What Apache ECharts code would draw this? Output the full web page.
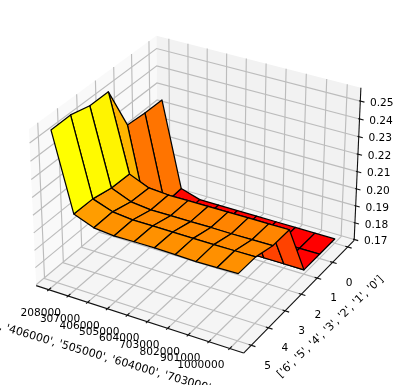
<!DOCTYPE html>
<html>
<head>
<meta charset="utf-8">
<style>html,body{margin:0;padding:0;background:#fff}#c{width:401px;height:385px}</style>
<script src="https://cdn.jsdelivr.net/npm/echarts@6/dist/echarts.min.js"></script>
</head>
<body>
<div id="c"></div>
<script>
// ---- data ----
const xTickLabels = ['208000','307000','406000','505000','604000','703000','802000','901000','1000000',''];
const yTickLabels = ['5','4','3','2','1','0',''];
const zTicks = [0.17,0.18,0.19,0.20,0.21,0.22,0.23,0.24,0.25];
const xLabelText = "['208000', '307000', '406000', '505000', '604000', '703000', '802000', '901000', '1000000']";
const yLabelText = "['6', '5', '4', '3', '2', '1', '0']";
const zRow0 = [0.2556,0.2125,0.2081,0.2070,0.2072,0.2073,0.2070,0.2067,0.2069,0.2072];
const zRow1 = [0.2558,0.2123,0.2083,0.2071,0.2071,0.2071,0.2070,0.2070,0.2071,0.2072];
const zRow2 = [0.2530,0.2099,0.2053,0.2040,0.2041,0.2041,0.2042,0.2041,0.2042,0.2043];
const zRow3 = [0.2530,0.2095,0.2047,0.2039,0.2040,0.2040,0.2041,0.2042,0.2042,0.2043];
const zRow4 = [0.2265,0.1750,0.1720,0.1720,0.1720,0.1720,0.1720,0.1720,0.1720,0.1720];
const zRow5 = [0.2255,0.1750,0.1720,0.1720,0.1720,0.1720,0.1720,0.1720,0.1720,0.1720];
const zRow6 = [0.2253,0.1755,0.1720,0.1720,0.1720,0.1720,0.1720,0.1720,0.1720,0.1720];
const zRows = [zRow0,zRow1,zRow2,zRow3,zRow4,zRow5,zRow6];

// ---- 3D axis box ----
const xLim = [-0.656, 9.656], yLim = [-0.4375, 6.4375], zLim = [0.1695, 0.2574];
const box = [1.1428, 1.1428, 0.857];
const DIST = 10, SCALE = 2080, CX = 198, CY = 187;
const U = [0.866, 0.5, 0], V = [-0.25, 0.433, 0.866], W = [0.433, -0.75, 0.5];
function view(x, y, z) {
  const d = [
    ((x - xLim[0]) / (xLim[1] - xLim[0]) - 0.5) * box[0],
    ((y - yLim[0]) / (yLim[1] - yLim[0]) - 0.5) * box[1],
    ((z - zLim[0]) / (zLim[1] - zLim[0]) - 0.5) * box[2]
  ];
  const dot = a => a[0]*d[0] + a[1]*d[1] + a[2]*d[2];
  return { u: dot(U), v: dot(V), w: dot(W) };
}
function project(x, y, z) {
  const p = view(x, y, z), s = SCALE / (DIST - p.w);
  return [CX + s * p.u, CY - s * p.v];
}

// ---- surface cells: colour from cell mean (autumn map), painter's order ----
const cells = [];
for (let j = 0; j < zRows.length - 1; j++) {
  for (let i = 0; i < zRow0.length - 1; i++) {
    const c = [[i,j],[i+1,j],[i+1,j+1],[i,j+1]];
    const mean = c.reduce((s, q) => s + zRows[q[1]][q[0]], 0) / 4;
    const depth = c.reduce((s, q) => s + view(q[0], q[1], zRows[q[1]][q[0]]).w, 0) / 4;
    cells.push({ i, j, mean, depth });
  }
}
cells.sort((a, b) => a.depth - b.depth);
const minMean = Math.min(...cells.map(c => c.mean));
const maxMean = Math.max(...cells.map(c => c.mean));
function autumn(v) {
  const t = Math.max(0, Math.min(1, (v - minMean) / (maxMean - minMean)));
  return 'rgb(255,' + Math.round(255 * t) + ',0)';
}

// ---- scene primitives ----
const panes = [
  { pts: [[xLim[0],yLim[0],zLim[0]],[xLim[0],yLim[1],zLim[0]],[xLim[0],yLim[1],zLim[1]],[xLim[0],yLim[0],zLim[1]]], fill: '#f9f9f9' },
  { pts: [[xLim[0],yLim[1],zLim[0]],[xLim[1],yLim[1],zLim[0]],[xLim[1],yLim[1],zLim[1]],[xLim[0],yLim[1],zLim[1]]], fill: '#f2f2f2' },
  { pts: [[xLim[0],yLim[0],zLim[0]],[xLim[1],yLim[0],zLim[0]],[xLim[1],yLim[1],zLim[0]],[xLim[0],yLim[1],zLim[0]]], fill: '#f5f5f5' }
];
const gridLines = [];
xTickLabels.forEach((_, i) => {
  gridLines.push([[i,yLim[0],zLim[0]],[i,yLim[1],zLim[0]],[i,yLim[1],zLim[1]]]);
});
yTickLabels.forEach((_, j) => {
  gridLines.push([[xLim[1],j,zLim[0]],[xLim[0],j,zLim[0]],[xLim[0],j,zLim[1]]]);
});
zTicks.forEach(z => {
  gridLines.push([[xLim[0],yLim[0],z],[xLim[0],yLim[1],z],[xLim[1],yLim[1],z]]);
});
const axisLines = [
  [[xLim[0],yLim[0],zLim[0]],[xLim[1],yLim[0],zLim[0]]],
  [[xLim[1],yLim[0],zLim[0]],[xLim[1],yLim[1],zLim[0]]],
  [[xLim[1],yLim[1],zLim[0]],[xLim[1],yLim[1],zLim[1]]]
];
const tickLines = [];
xTickLabels.forEach((_, i) => tickLines.push([[i,yLim[0]+0.12,zLim[0]],[i,yLim[0]-0.08,zLim[0]]]));
yTickLabels.forEach((_, j) => tickLines.push([[xLim[1]-0.12,j,zLim[0]],[xLim[1]+0.2,j,zLim[0]]]));
zTicks.forEach(z => tickLines.push([[xLim[1]-0.06,yLim[1],z],[xLim[1]+0.2,yLim[1],z]]));

const FONT = 'DejaVu Sans', FS = 10.6, FS_AXIS = 11;
const texts = [];
xTickLabels.forEach((t, i) => {
  const p = project(i, yLim[0], zLim[0]);
  texts.push({ text: t, pos: [p[0] - 8, p[1] + 23.5], rot: 0, fs: FS });
});
yTickLabels.forEach((t, j) => {
  const p = project(xLim[1], j, zLim[0]);
  texts.push({ text: t, pos: [p[0] + 16.5, p[1] + 20.5], rot: 0, fs: FS });
});
zTicks.forEach(z => {
  const p = project(xLim[1], yLim[1], z);
  texts.push({ text: z.toFixed(2), pos: [p[0] + 21.5, p[1] + 2], rot: 0, fs: FS });
});
texts.push({ text: xLabelText, pos: [138, 367.5], rot: -16.5, fs: FS_AXIS });
texts.push({ text: yLabelText, pos: [330.5, 327], rot: 43.6, fs: FS_AXIS });

function poly3(api, pts) { return pts.map(p => { const q = project(p[0], p[1], p[2]); return api.coord(q); }); }

const indexed = arr => arr.map((_, k) => [k]);

const chart = echarts.init(document.getElementById('c'), null, { renderer: 'canvas' });
chart.setOption({
  animation: false,
  backgroundColor: '#ffffff',
  tooltip: { show: false },
  grid: { left: 0, right: 0, top: 0, bottom: 0 },
  xAxis: { type: 'value', min: 0, max: 401, show: false },
  yAxis: { type: 'value', min: 0, max: 385, inverse: true, show: false },
  series: [
    { type: 'custom', name: 'panes', silent: true, z: 1, clip: false, data: indexed(panes), coordinateSystem: 'cartesian2d',
      renderItem: (p, api) => { const k = api.value(0);
        return { type: 'polygon', shape: { points: poly3(api, panes[k].pts) }, style: { fill: panes[k].fill, stroke: null } }; } },
    { type: 'custom', name: 'grid', silent: true, z: 2, clip: false, data: indexed(gridLines),
      renderItem: (p, api) => ({ type: 'polyline', shape: { points: poly3(api, gridLines[api.value(0)]) }, style: { stroke: '#bcbcbc', lineWidth: 1.15, fill: null } }) },
    { type: 'custom', name: 'axes', silent: true, z: 3, clip: false, data: indexed(axisLines),
      renderItem: (p, api) => ({ type: 'polyline', shape: { points: poly3(api, axisLines[api.value(0)]) }, style: { stroke: '#111', lineWidth: 1.1, fill: null } }) },
    { type: 'custom', name: 'ticks', silent: true, z: 3, clip: false, data: indexed(tickLines),
      renderItem: (p, api) => ({ type: 'polyline', shape: { points: poly3(api, tickLines[api.value(0)]) }, style: { stroke: '#111', lineWidth: 1.1, fill: null } }) },
    { type: 'custom', name: 'surface', silent: true, z: 4, clip: false, data: indexed(cells),
      renderItem: (p, api) => { const c = cells[api.value(0)];
        const pts = [[c.i,c.j],[c.i+1,c.j],[c.i+1,c.j+1],[c.i,c.j+1]].map(q => [q[0], q[1], zRows[q[1]][q[0]]]);
        return { type: 'polygon', shape: { points: poly3(api, pts) }, style: { fill: autumn(c.mean), stroke: '#000', lineWidth: 1.25, lineJoin: 'round' } }; } },
    { type: 'custom', name: 'labels', silent: true, z: 5, clip: false, data: indexed(texts),
      renderItem: (p, api) => { const t = texts[api.value(0)], q = api.coord(t.pos);
        return { type: 'text', x: q[0], y: q[1], rotation: t.rot * Math.PI / 180,
          style: { text: t.text, fill: '#000', font: t.fs + 'px "' + FONT + '"', textAlign: 'center', textVerticalAlign: 'middle' } }; } }
  ]
});
</script>
</body>
</html>
